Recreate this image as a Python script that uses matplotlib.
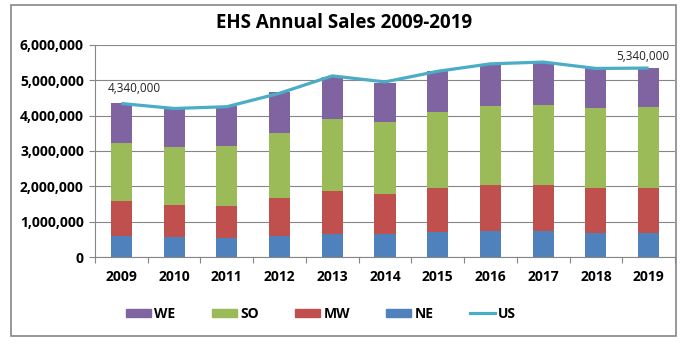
import matplotlib
matplotlib.use('Agg')
import matplotlib.pyplot as plt
from matplotlib.patches import Rectangle, Patch
from matplotlib.lines import Line2D
from matplotlib.ticker import FuncFormatter, MultipleLocator
import numpy as np

plt.rcParams['font.family'] = ['Open Sans', 'DejaVu Sans']

# Data
years = ['2009', '2010', '2011', '2012', '2013', '2014', '2015', '2016', '2017', '2018', '2019']
ne = [600000, 570000, 550000, 610000, 670000, 670000, 720000, 740000, 740000, 690000, 690000]
mw = [990000, 910000, 900000, 1060000, 1200000, 1130000, 1245000, 1300000, 1300000, 1275000, 1275000]
so = [1640000, 1640000, 1690000, 1830000, 2030000, 2020000, 2135000, 2230000, 2260000, 2245000, 2275000]
we = [1115000, 1080000, 1130000, 1160000, 1180000, 1100000, 1160000, 1160000, 1190000, 1120000, 1100000]
us = [4340000, 4200000, 4250000, 4630000, 5120000, 4950000, 5250000, 5460000, 5510000, 5330000, 5340000]

c_ne = '#4F81BD'
c_mw = '#C0504D'
c_so = '#9BBB59'
c_we = '#8064A2'
c_us = '#4BACC6'
grid_c = '#868686'

fig = plt.figure(figsize=(6.83, 3.47), dpi=100)
ax = fig.add_axes([95 / 683, 1 - 257.3 / 347, 580 / 683, 212.6 / 347])

x = np.arange(len(years))
w = 0.4
ne_a, mw_a, so_a = np.array(ne), np.array(mw), np.array(so)
ax.bar(x, ne, w, color=c_ne, zorder=2)
ax.bar(x, mw, w, bottom=ne_a, color=c_mw, zorder=2)
ax.bar(x, so, w, bottom=ne_a + mw_a, color=c_so, zorder=2)
ax.bar(x, we, w, bottom=ne_a + mw_a + so_a, color=c_we, zorder=2)
ax.plot(x, us, color=c_us, lw=2.3, zorder=3, solid_capstyle='butt')

# data labels on first and last point
ax.annotate(f'{us[0]:,}', (x[0], us[0]), xytext=(9, 11), textcoords='offset points',
            ha='center', va='center', fontsize=8.5, color='#222222')
ax.annotate(f'{us[-1]:,}', (x[-1], us[-1]), xytext=(-4, 8), textcoords='offset points',
            ha='center', va='center', fontsize=8.5, color='#222222')

ax.set_xlim(-0.5, len(years) - 0.5)
ax.set_ylim(0, 6000000)
ax.yaxis.set_major_locator(MultipleLocator(1000000))
ax.yaxis.set_major_formatter(FuncFormatter(lambda v, p: f'{int(v):,}'))
ax.grid(axis='y', color=grid_c, lw=0.8, zorder=0)
ax.set_xticks(x)
ax.set_xticklabels(years)
ax.set_xticks(np.arange(-0.5, len(years), 1), minor=True)
ax.tick_params(axis='x', which='major', length=0, pad=9)
ax.tick_params(axis='x', which='minor', length=4, color=grid_c, width=0.8)
ax.tick_params(axis='y', length=4, color=grid_c, width=0.8, pad=4)
for lbl in ax.get_xticklabels() + ax.get_yticklabels():
    lbl.set_fontweight('bold')
    lbl.set_fontsize(10)
for s in ['top', 'right']:
    ax.spines[s].set_visible(False)
for s in ['left', 'bottom']:
    ax.spines[s].set_color(grid_c)
    ax.spines[s].set_linewidth(0.8)

fig.text(344 / 683, 1 - 23 / 347, 'EHS Annual Sales 2009-2019', ha='center', va='center',
         fontsize=13.5, fontweight='bold')

# outer chart border
fig.patches.append(Rectangle((11 / 683, 11 / 347), 665 / 683, 331 / 347, transform=fig.transFigure,
                             fill=False, edgecolor=grid_c, lw=1.2))

handles = [Patch(color=c_we, label='WE'), Patch(color=c_so, label='SO'),
           Patch(color=c_mw, label='MW'), Patch(color=c_ne, label='NE'),
           Line2D([0], [0], color=c_us, lw=2.3, label='US')]
leg = fig.legend(handles=handles, loc='center', bbox_to_anchor=(321 / 683, 1 - 314 / 347), ncol=5,
                 frameon=False, handlelength=1.8, handleheight=0.58, columnspacing=2.6,
                 handletextpad=0.25, prop={'weight': 'bold', 'size': 10})

fig.savefig('out.png', dpi=100)
